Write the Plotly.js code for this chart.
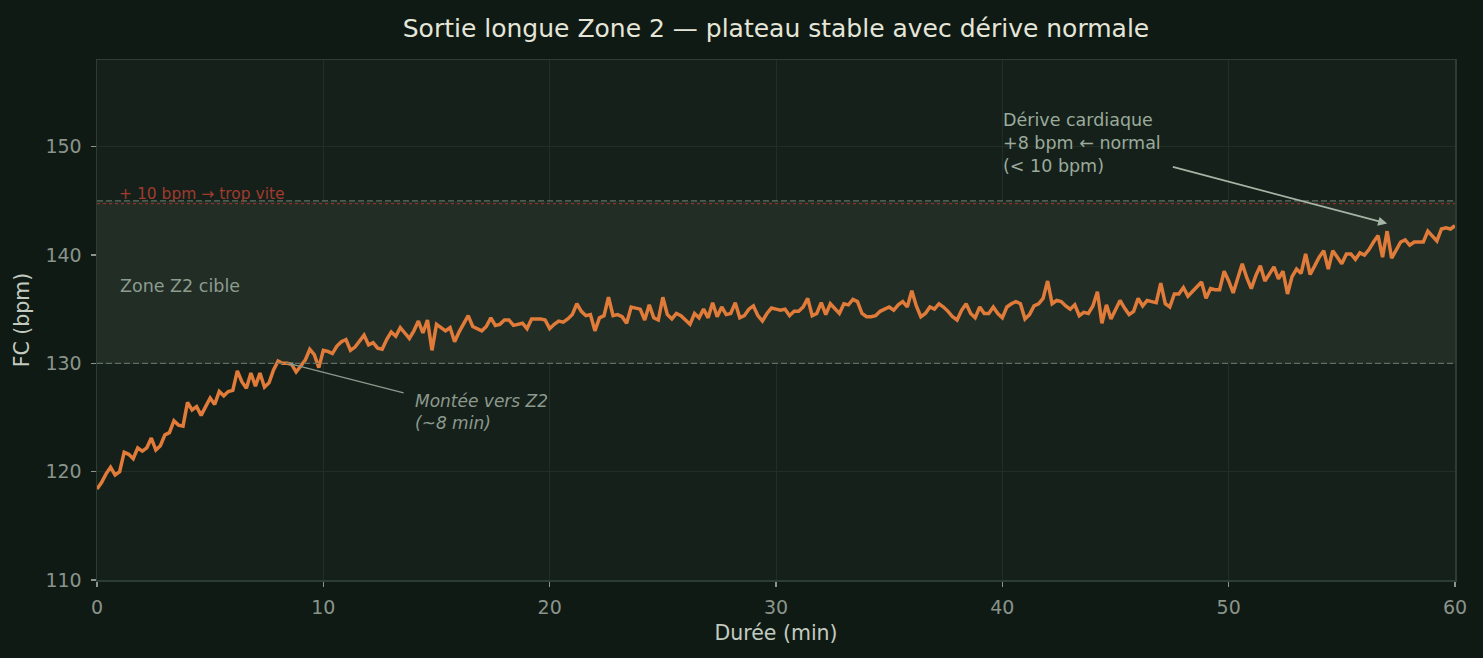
<!DOCTYPE html>
<html>
<head>
<meta charset="utf-8">
<script src="https://cdn.plot.ly/plotly-3.0.1.min.js"></script>
<style>
  html, body { margin: 0; padding: 0; background: #0f1a15; }
  #chart { width: 1483px; height: 658px; }
</style>
</head>
<body>
<div id="chart"></div>
<script>
// Heart rate (bpm) sampled every 12 s (0.2 min) over a 60-minute Zone 2 ride
const sampleStartMin = 0;
const sampleStepMin = 0.2;

const hrWarmup = [ // 0.0 – 10.8 min
  118.4, 119.0, 119.8, 120.4, 119.7, 120.0, 121.8, 121.6, 121.2, 122.2,
  121.9, 122.2, 123.1, 122.0, 122.4, 123.4, 123.6, 124.7, 124.3, 124.2,
  126.4, 125.7, 126.0, 125.2, 126.0, 126.8, 126.2, 127.4, 127.0, 127.4,
  127.5, 129.3, 128.3, 127.7, 129.1, 127.9, 129.1, 127.8, 128.2, 129.4,
  130.2, 130.0, 130.0, 129.9, 129.2, 129.8, 130.3, 131.3, 130.8, 129.6,
  131.2, 131.1, 130.9, 131.6, 132.0
];
const hrEarlyPlateau = [ // 11.0 – 21.2 min
  132.2, 131.2, 131.5, 132.0, 132.6, 131.7, 131.9, 131.4, 131.3, 132.2,
  132.9, 132.5, 133.3, 132.8, 132.3, 133.0, 133.9, 132.8, 134.0, 131.2,
  133.6, 133.3, 133.0, 133.3, 132.0, 132.9, 133.6, 134.4, 133.4, 133.2,
  133.0, 133.4, 134.2, 133.5, 133.6, 134.0, 134.0, 133.5, 133.6, 133.7,
  133.2, 134.1, 134.1, 134.1, 134.0, 133.2, 133.6, 133.9, 133.8, 134.1,
  134.5, 135.5
];
const hrMidPlateau = [ // 21.4 – 32.0 min
  134.8, 134.4, 134.5, 133.0, 134.2, 134.4, 136.1, 134.4, 134.5, 134.3,
  133.7, 135.2, 135.1, 135.0, 134.0, 135.4, 134.2, 134.0, 136.1, 134.5,
  134.1, 134.6, 134.4, 134.0, 133.6, 134.6, 134.2, 135.0, 134.2, 135.6,
  134.3, 135.2, 134.5, 134.6, 135.6, 134.2, 134.4, 135.0, 135.3, 134.4,
  133.9, 134.6, 135.1, 135.0, 134.9, 135.0, 134.4, 134.8, 134.8, 135.2,
  136.0, 134.4, 134.6, 135.6
];
const hrLatePlateau = [ // 32.2 – 42.6 min
  134.5, 135.5, 135.0, 134.6, 135.5, 135.4, 135.9, 135.7, 134.6, 134.3,
  134.3, 134.4, 134.8, 135.0, 135.2, 134.9, 135.4, 135.7, 135.2, 136.7,
  135.3, 134.3, 134.6, 135.2, 135.0, 135.5, 135.2, 134.8, 134.3, 134.0,
  134.9, 135.5, 134.6, 134.2, 135.2, 134.6, 134.6, 135.2, 134.6, 134.2,
  135.2, 135.5, 135.7, 135.5, 134.1, 134.5, 135.3, 135.5, 136.0, 137.6,
  135.5, 135.8, 135.7
];
const hrDriftStart = [ // 42.8 – 53.0 min
  135.3, 135.0, 135.4, 134.4, 134.7, 134.6, 135.3, 136.6, 133.7, 135.4,
  134.1, 135.0, 135.8, 135.1, 134.5, 134.8, 136.0, 135.3, 135.8, 135.7,
  135.6, 137.4, 135.5, 135.2, 136.4, 136.4, 137.0, 136.2, 136.6, 137.1,
  137.5, 136.0, 136.9, 136.8, 136.8, 138.5, 137.6, 136.5, 137.9, 139.2,
  137.9, 136.9, 138.1, 139.0, 137.6, 138.3, 138.9, 137.8, 138.5, 136.4,
  138.0, 138.7
];
const hrDriftEnd = [ // 53.2 – 60.0 min
  138.3, 140.1, 138.2, 139.0, 139.8, 140.4, 138.7, 140.4, 139.8, 139.2,
  140.1, 140.1, 139.6, 140.2, 140.0, 140.5, 141.2, 141.8, 139.8, 142.2,
  139.7, 140.4, 141.2, 141.4, 140.9, 141.2, 141.2, 141.2, 142.2, 141.8,
  141.3, 142.4, 142.5, 142.4, 142.7
];

const heartRate = [].concat(hrWarmup, hrEarlyPlateau, hrMidPlateau,
                            hrLatePlateau, hrDriftStart, hrDriftEnd);

// Target zone bounds and axis ranges
const zoneLow = 130;
const zoneHigh = 145;
const fastLimit = 144.75;
const xRange = [0, 60];
const yRange = [110, 158];
const xTicks = [0, 10, 20, 30, 40, 50, 60];
const yTicks = [110, 120, 130, 140, 150];

const FONT = 'DejaVu Sans, Verdana, sans-serif';

const trace = {
  type: 'scatter',
  mode: 'lines',
  x0: sampleStartMin,
  dx: sampleStepMin,
  y: heartRate,
  line: { color: '#e07b39', width: 3.5, shape: 'linear' },
  hoverinfo: 'skip',
  showlegend: false
};

const shapes = [
  // target band
  { type: 'rect', xref: 'paper', yref: 'y', x0: 0, x1: 1, y0: zoneLow, y1: zoneHigh,
    fillcolor: '#222d26', line: { width: 0 }, layer: 'below' },
  { type: 'line', xref: 'paper', yref: 'y', x0: 0, x1: 1, y0: zoneLow, y1: zoneLow,
    line: { color: '#5d7063', width: 1.3, dash: '6px,3px' }, layer: 'above' },
  { type: 'line', xref: 'paper', yref: 'y', x0: 0, x1: 1, y0: zoneHigh, y1: zoneHigh,
    line: { color: '#5d7063', width: 1.3, dash: '6px,3px' }, layer: 'above' },
  { type: 'line', xref: 'paper', yref: 'y', x0: 0, x1: 1, y0: fastLimit, y1: fastLimit,
    line: { color: '#8a3328', width: 1.3, dash: 'dot' }, layer: 'above' }
];

const annotations = [
  { xref: 'x', yref: 'y', x: 1, y: 145.6, xshift: -3, text: '+ 10 bpm → trop vite',
    showarrow: false, xanchor: 'left', yanchor: 'middle',
    font: { family: FONT, size: 15.5, color: '#a03b2e' } },
  { xref: 'x', yref: 'y', x: 1, y: 137.1, xshift: -2, text: 'Zone Z2 cible',
    showarrow: false, xanchor: 'left', yanchor: 'middle',
    font: { family: FONT, size: 17.5, color: '#8c9c8e' } },
  // cardiac drift note
  { xref: 'x', yref: 'y', x: 40, y: 150.3, xshift: -1,
    text: 'Dérive cardiaque<br>+8 bpm ← normal<br>(< 10 bpm)',
    showarrow: false, xanchor: 'left', yanchor: 'middle', align: 'left',
    font: { family: FONT, size: 17.5, color: '#9aab9c' } },
  { xref: 'x', yref: 'y', x: 57.0, y: 142.9, ax: 47.4, ay: 148.2,
    axref: 'x', ayref: 'y', text: ' ', showarrow: true,
    arrowhead: 2, arrowsize: 1, arrowwidth: 1.8, arrowcolor: '#a4b5a6' },
  // climb to Z2 note
  { xref: 'x', yref: 'y', x: 14.05, y: 125.5, xshift: -2,
    text: '<i>Montée vers Z2<br>(~8 min)</i>',
    showarrow: false, xanchor: 'left', yanchor: 'middle', align: 'left',
    font: { family: FONT, size: 17, color: '#8c9a8e' } },
  { xref: 'x', yref: 'y', x: 8.45, y: 130.0, ax: 13.68, ay: 127.2,
    axref: 'x', ayref: 'y', text: ' ', showarrow: true,
    arrowhead: 2, arrowsize: 0.8, arrowwidth: 1.2, arrowcolor: '#8c9a8e' }
];

const axisCommon = {
  showgrid: true,
  gridcolor: '#212e26',
  gridwidth: 1,
  zeroline: false,
  showline: true,
  mirror: true,
  linecolor: '#2c3d32',
  linewidth: 1.5,
  ticks: 'outside',
  ticklen: 5,
  tickwidth: 1.2,
  tickcolor: '#8a948a',
  ticklabelstandoff: 5,
  tickfont: { family: FONT, size: 19, color: '#8a948a' }
};

const layout = {
  width: 1483,
  height: 658,
  paper_bgcolor: '#0f1a15',
  plot_bgcolor: '#16201a',
  margin: { l: 97, r: 28, t: 60, b: 78 },
  title: {
    text: 'Sortie longue Zone 2 — plateau stable avec dérive normale',
    xref: 'paper', x: 0.5, xanchor: 'center', y: 0.957, yanchor: 'middle',
    font: { family: FONT, size: 25, color: '#e6e6d8' }
  },
  xaxis: Object.assign({}, axisCommon, {
    range: xRange, tickvals: xTicks, ticktext: xTicks.map(String),
    title: { text: 'Durée (min)', standoff: 8,
             font: { family: FONT, size: 20.5, color: '#c3cabf' } }
  }),
  yaxis: Object.assign({}, axisCommon, {
    range: yRange, tickvals: yTicks, ticktext: yTicks.map(String),
    title: { text: 'FC (bpm)', standoff: 10,
             font: { family: FONT, size: 20.5, color: '#c3cabf' } }
  }),
  shapes: shapes,
  annotations: annotations,
  showlegend: false
};

Plotly.newPlot('chart', [trace], layout, { displayModeBar: false, staticPlot: true });
</script>
</body>
</html>
